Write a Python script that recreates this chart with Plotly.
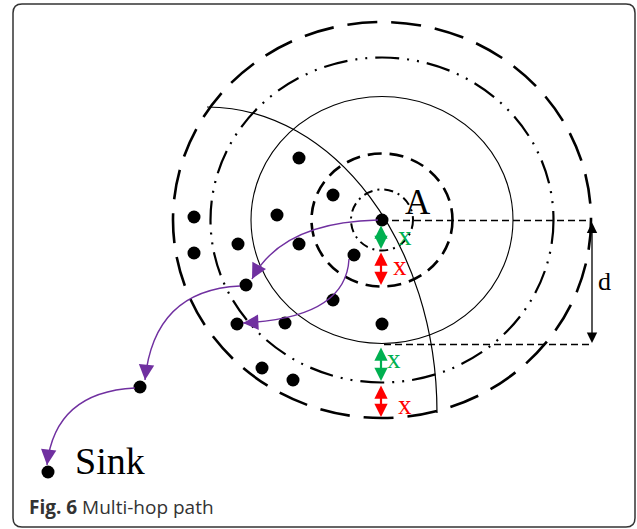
import plotly.graph_objects as go

# 节点坐标 (像素坐标系, y 向下)
node_x = [382, 299, 333, 277, 194, 194, 238, 299, 354, 246, 333, 285, 237, 382, 262, 293, 140, 48]
node_y = [220, 158, 195, 215, 217, 253, 244, 244, 255, 285, 300, 323, 324, 324, 368, 380, 387, 472]

# 以A为中心的同心椭圆: (rx, ry, 线型, 线宽)
center = (382, 220)
ring_rx = [209, 171.5, 131, 70.5, 31]
ring_ry = [198, 162.5, 123.5, 66.5, 30.5]
ring_dash = ["30px,14px", "24px,8px,2px,8px,2px,8px", "solid", "14px,8px", "9px,5px,2px,5px"]
ring_width = [2.6, 2.2, 1.1, 2.6, 2.0]

# 多跳路径 (起点, 控制点, 终点)
hop_start = [(378, 220), (349, 259), (240, 286), (135, 388)]
hop_ctrl = [(282, 222), (346, 318), (154, 290), (55, 392)]
hop_end = [(252, 279), (243, 323), (145, 380), (47, 465)]

# 间距标记 x
gap_y0 = [224, 251, 346, 384]
gap_y1 = [249, 285, 381, 417]
gap_color = ["#00B050", "#FF0000", "#00B050", "#FF0000"]
gap_label_x = [405, 400, 394, 405]
gap_label_y = [236, 266, 359, 405]

PURPLE = "#7030A0"

fig = go.Figure()

shapes = []
# 外框
x0, y0, x1, y1, r = 13, 4, 635, 527, 9
shapes.append(dict(
    type="path",
    path=(f"M {x0+r},{y0} L {x1-r},{y0} Q {x1},{y0} {x1},{y0+r} L {x1},{y1-r} "
          f"Q {x1},{y1} {x1-r},{y1} L {x0+r},{y1} Q {x0},{y1} {x0},{y1-r} "
          f"L {x0},{y0+r} Q {x0},{y0} {x0+r},{y0} Z"),
    line=dict(color="#333333", width=1.5), layer="below"))

for rx, ry, dash, w in zip(ring_rx, ring_ry, ring_dash, ring_width):
    shapes.append(dict(type="circle", x0=center[0]-rx, x1=center[0]+rx,
                       y0=center[1]-ry, y1=center[1]+ry,
                       line=dict(color="black", width=w, dash=dash)))

# 大弧 (四分之一椭圆, 中心 (207,413))
k = 0.5523
acx, acy, arx, ary = 207, 413, 230, 306
shapes.append(dict(
    type="path",
    path=(f"M {acx},{acy-ary} C {acx+k*arx},{acy-ary} {acx+arx},{acy-k*ary} "
          f"{acx+arx},{acy}"),
    line=dict(color="black", width=1.2)))

# 距离d的虚线
for yy, xs in [(220.5, 392), (344.5, 384)]:
    shapes.append(dict(type="line", x0=xs, x1=590, y0=yy, y1=yy,
                       line=dict(color="black", width=1.4, dash="7px,4px")))

# 紫色多跳曲线
for s, c, e in zip(hop_start, hop_ctrl, hop_end):
    shapes.append(dict(type="path", path=f"M {s[0]},{s[1]} Q {c[0]},{c[1]} {e[0]},{e[1]}",
                       line=dict(color=PURPLE, width=1.4)))

annotations = []
# 箭头
for c, e in zip(hop_ctrl, hop_end):
    dx, dy = e[0]-c[0], e[1]-c[1]
    n = (dx**2 + dy**2) ** 0.5
    annotations.append(dict(x=e[0], y=e[1], ax=e[0]-dx/n*8, ay=e[1]-dy/n*8,
                            xref="x", yref="y", axref="x", ayref="y", text="",
                            showarrow=True, arrowhead=2, arrowsize=2.2,
                            arrowwidth=1.4, arrowcolor=PURPLE))

for ya, yb, col, lx, ly in zip(gap_y0, gap_y1, gap_color, gap_label_x, gap_label_y):
    annotations.append(dict(x=381, y=yb, ax=381, ay=ya, xref="x", yref="y",
                            axref="x", ayref="y", text="", showarrow=True,
                            arrowhead=2, startarrowhead=2, arrowside="end+start",
                            arrowsize=1.2, startarrowsize=1.2, arrowwidth=2.2,
                            arrowcolor=col))
    annotations.append(dict(x=lx, y=ly, xref="x", yref="y", text="x", showarrow=False,
                            font=dict(family="Liberation Serif", size=27, color=col)))

annotations.append(dict(x=592, y=343, ax=592, ay=221, xref="x", yref="y",
                        axref="x", ayref="y", text="", showarrow=True,
                        arrowhead=2, startarrowhead=2, arrowside="end+start",
                        arrowsize=1.6, startarrowsize=1.6, arrowwidth=1.3,
                        arrowcolor="black"))
annotations.append(dict(x=604, y=281, xref="x", yref="y", text="d", showarrow=False,
                        font=dict(family="Liberation Serif", size=26, color="black")))
annotations.append(dict(x=418, y=202, xref="x", yref="y", text="A", showarrow=False,
                        font=dict(family="Liberation Serif", size=35, color="black")))
annotations.append(dict(x=73, y=461, xref="x", yref="y", text="Sink", showarrow=False,
                        xanchor="left",
                        font=dict(family="Liberation Serif", size=38, color="black")))
annotations.append(dict(x=27, y=507, xref="x", yref="y",
                        text="<b>Fig. 6</b> Multi-hop path", showarrow=False,
                        xanchor="left",
                        font=dict(family="Open Sans", size=19, color="#333333")))

fig.add_trace(go.Scatter(x=node_x, y=node_y, mode="markers",
                         marker=dict(color="black", size=13), hoverinfo="skip"))

fig.update_layout(
    width=637, height=529,
    margin=dict(l=0, r=0, t=0, b=0),
    plot_bgcolor="white", paper_bgcolor="white",
    showlegend=False,
    shapes=shapes, annotations=annotations,
    xaxis=dict(range=[0, 637], visible=False),
    yaxis=dict(range=[529, 0], visible=False),
)

# 去掉页面默认边距, 使图与窗口对齐
fig.write_html("out.html", config={"displayModeBar": False},
               post_script="document.body.style.margin='0';")
